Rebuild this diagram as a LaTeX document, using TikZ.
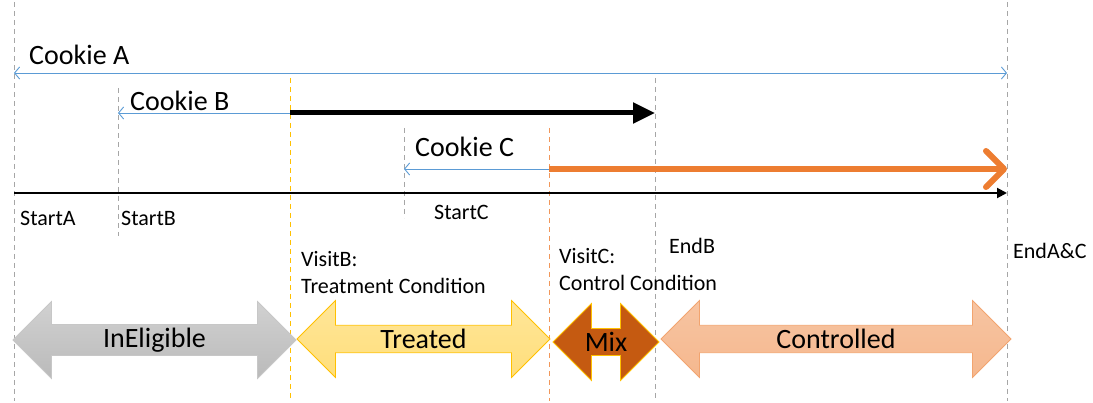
\documentclass[tikz,border=0pt]{standalone}
\usepackage{fontspec}
\setmainfont{Carlito}
\usetikzlibrary{arrows.meta,shapes.arrows}
\definecolor{cookieblue}{HTML}{5B9BD5}
\definecolor{guidegray}{HTML}{A6A6A6}
\definecolor{treatgold}{HTML}{FFC000}
\definecolor{ctrlorange}{HTML}{ED7D31}
\definecolor{mixbrown}{HTML}{C55A11}

\begin{document}
\begin{tikzpicture}[x=1pt,y=-1pt]
\tikzset{
  guide/.style={line width=0.8pt,dash pattern=on 5pt off 4pt},
  cookie/.style={draw=cookieblue,line width=0.9pt,-{Straight Barb[length=5pt,width=12pt]}},
  biglabel/.style={font=\fontsize{28}{32}\selectfont,inner sep=0pt,anchor=west},
  smalllabel/.style={font=\fontsize{22}{27}\selectfont,inner sep=0pt,anchor=west},
  phase/.style={double arrow,line width=0.8pt,minimum width=77pt,double arrow head extend=18.5pt,
    inner sep=0pt,font=\fontsize{28}{32}\selectfont}
}
\useasboundingbox (0,0) rectangle (1093,403);
% time points
\coordinate (sA) at (14,73);
\coordinate (eA) at (1007,73);
\coordinate (sB) at (118,113);
\coordinate (vB) at (290,113);
\coordinate (eB) at (655,113);
\coordinate (sC) at (404,169);
\coordinate (vC) at (549,169);
\coordinate (eC) at (1007,169);
\coordinate (t0) at (14,193);
\coordinate (t1) at (1007,193);
% guide lines
\draw[guide,draw=guidegray] (14,2) -- (14,401);
\draw[guide,draw=guidegray] (118,88) -- (118,236);
\draw[guide,draw=treatgold] (290,78) -- (290,401);
\draw[guide,draw=guidegray] (404,128) -- (404,218);
\draw[guide,draw=ctrlorange!80] (549,128) -- (549,401);
\draw[guide,draw=guidegray] (655,78) -- (655,401);
\draw[guide,draw=guidegray] (1007,2) -- (1007,401);
% cookies
\draw[cookie,{Straight Barb[length=5pt,width=12pt]}-{Straight Barb[length=5pt,width=12pt]}] (sA) -- (eA);
\draw[cookie] (vB) -- (sB);
\draw[cookie] (vC) -- (sC);
\draw[line width=5pt,-{Triangle[length=22pt,width=20pt]}] (vB) -- (eB);
\draw[ctrlorange,line width=6pt,-{Straight Barb[length=18pt,width=36pt,round]}] (vC) -- (eC);
\draw[line width=2pt,-{Triangle[length=10pt,width=10pt]}] (t0) -- (t1);
% labels
\node[biglabel] (labA) at (29,55) {Cookie A};
\node[biglabel] (labB) at (130,101) {Cookie B};
\node[biglabel] (labC) at (415,147) {Cookie C};
\node[smalllabel] (startA) at (20,218) {StartA};
\node[smalllabel] (startB) at (121,218) {StartB};
\node[smalllabel] (startC) at (434,212) {StartC};
\node[smalllabel,anchor=north west,align=left] (visitB) at (301,251) {VisitB:\\Treatment Condition};
\node[smalllabel,anchor=north west,align=left] (visitC) at (559,248) {VisitC:\\Control Condition};
\node[smalllabel] (endB) at (669,246) {EndB};
\node[smalllabel] (endAC) at (1013,251) {EndA\&C};
% phases
\node[phase,minimum height=283pt,draw=black!22,top color=black!18,bottom color=black!27] (inel) at (154.5,340) {InEligible};
\node[phase,minimum height=253pt,draw=treatgold,top color=treatgold!40,bottom color=treatgold!52] (treat) at (423.5,339) {Treated};
\node[phase,minimum height=106pt,draw=treatgold,fill=mixbrown] (mix) at (606,342) {Mix};
\node[phase,minimum height=350pt,draw=ctrlorange!70,top color=ctrlorange!45,bottom color=ctrlorange!55] (ctrl) at (836,339) {Controlled};
\end{tikzpicture}
\end{document}
